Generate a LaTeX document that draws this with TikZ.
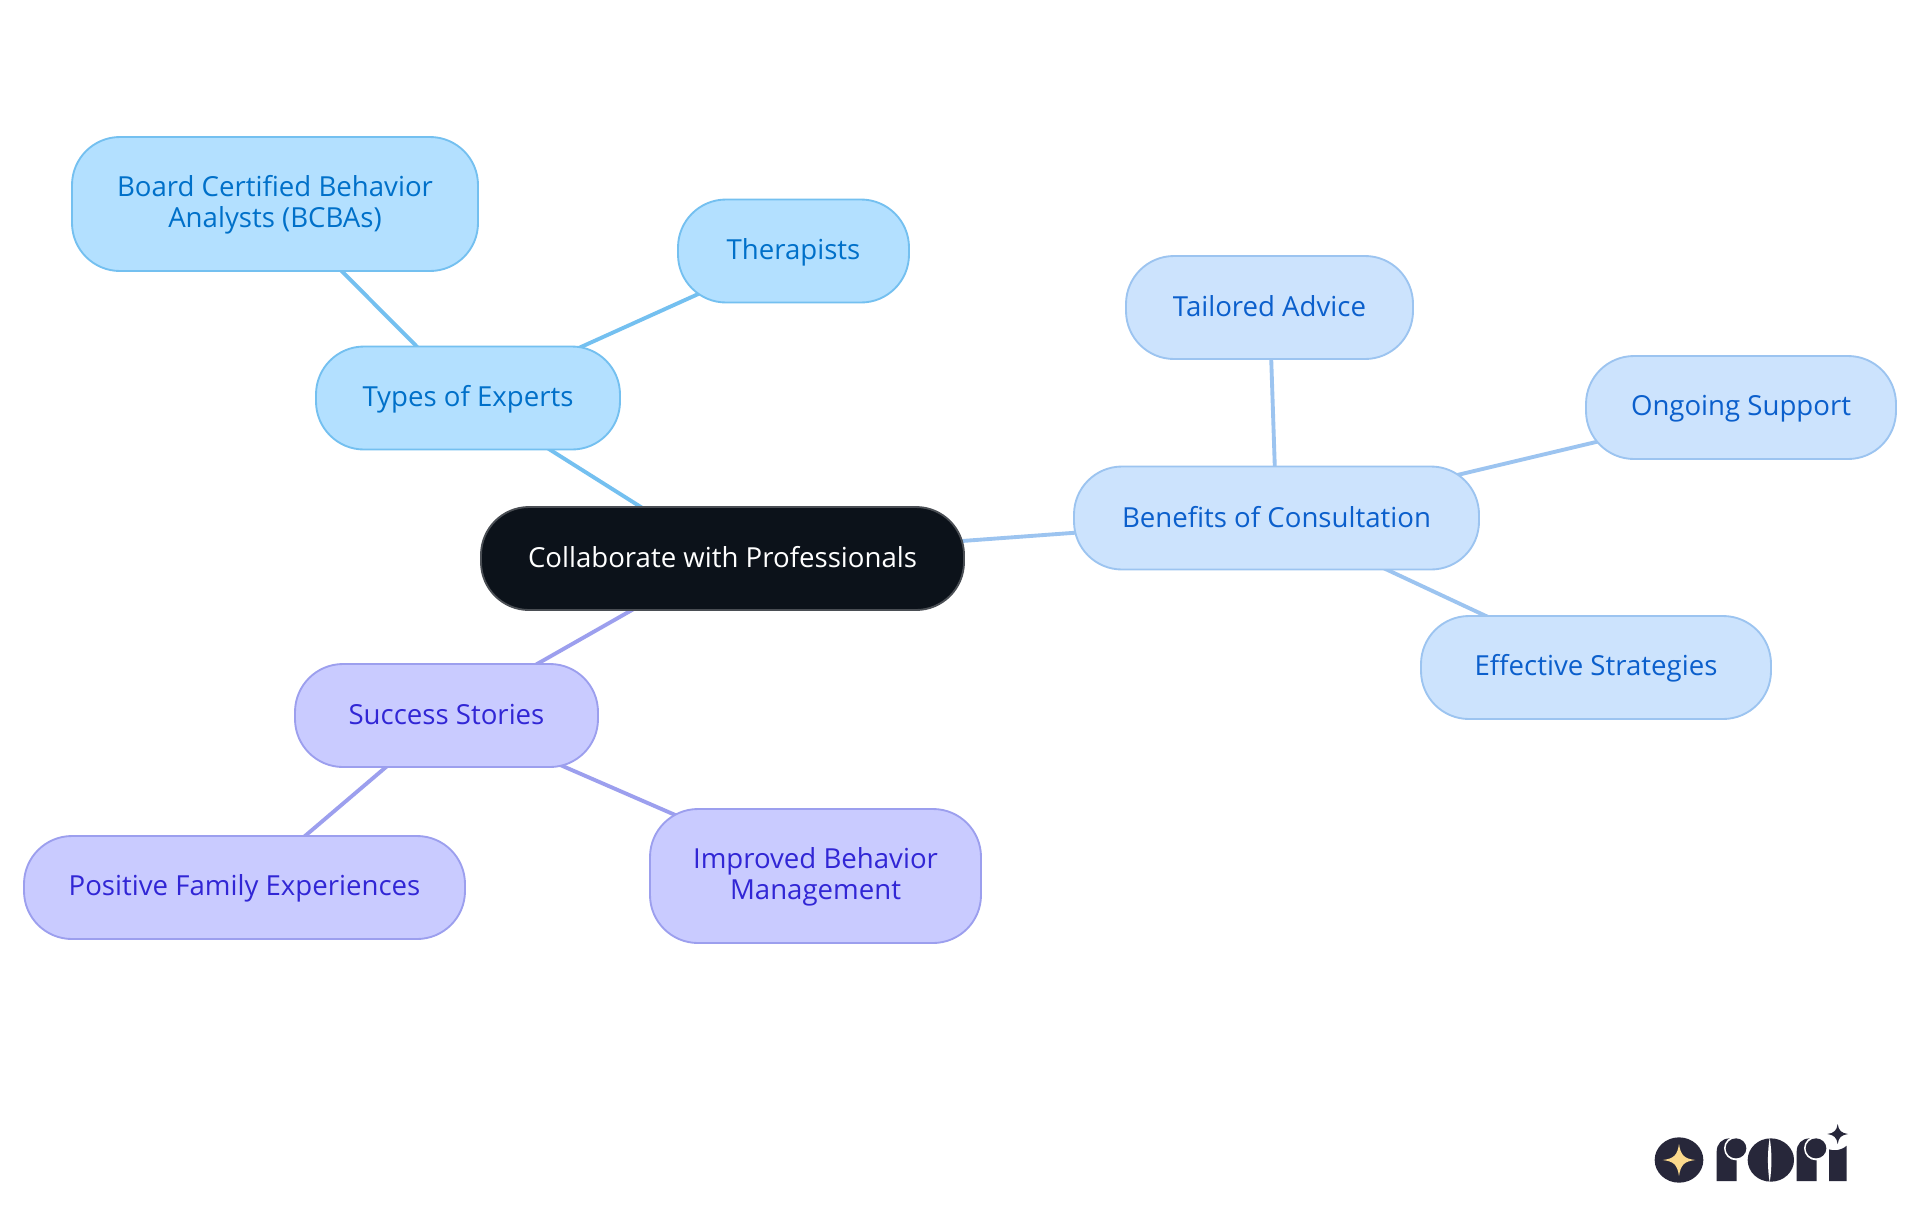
\documentclass[tikz,border=0pt]{standalone}
\usepackage{fontspec}
\setmainfont{Open Sans}
\usetikzlibrary{backgrounds}
\definecolor{rootfill}{HTML}{0C121A}
\definecolor{rootline}{HTML}{4A4E54}
\definecolor{afill}{HTML}{B3E0FF}
\definecolor{aline}{HTML}{74C0F0}
\definecolor{atext}{HTML}{0070C9}
\definecolor{bfill}{HTML}{CCE3FD}
\definecolor{bline}{HTML}{9CC4F0}
\definecolor{btext}{HTML}{0B5FCC}
\definecolor{cfill}{HTML}{C9CBFF}
\definecolor{cline}{HTML}{9C9FEE}
\definecolor{ctext}{HTML}{3126D5}
\definecolor{logodark}{HTML}{27273A}
\definecolor{logostar}{HTML}{FBD98C}
\newcommand{\lstrut}{\rule[-3.2pt]{0pt}{20.2pt}}
\tikzset{
  x=0.75pt,y=-0.75pt,
  pill/.style={rounded corners=36pt,line width=1.4pt,align=center,inner sep=0pt,
    font=\fontsize{20.7pt}{23pt}\selectfont},
  rootn/.style={pill,fill=rootfill,draw=rootline,text=white},
  an/.style={pill,fill=afill,draw=aline,text=atext},
  bn/.style={pill,fill=bfill,draw=bline,text=btext},
  cn/.style={pill,fill=cfill,draw=cline,text=ctext},
  aedge/.style={draw=aline,line width=2.9pt},
  bedge/.style={draw=bline,line width=2.9pt},
  cedge/.style={draw=cline,line width=2.9pt},
  logo/.style={fill=logodark,draw=none},
  gap/.style={fill=white,draw=none},
}
\newcommand{\pillnode}[7]{\node[#1,minimum width=#4*0.75pt,minimum height=#5*0.75pt] (#2) at (#3) {#6};}
\begin{document}
\begin{tikzpicture}
\useasboundingbox (0,0) rectangle (1920,1215);
\pillnode{rootn}{root}{722.5,558.5}{483}{103}{\lstrut Collaborate with Professionals}{}
\pillnode{an}{types}{468,398}{304}{103}{\lstrut Types of Experts}{}
\pillnode{an}{bcba}{275,204}{406}{134}{\lstrut Board Certified Behavior\\\lstrut Analysts (BCBAs)}{}
\pillnode{an}{ther}{793.5,251}{231}{103}{\lstrut Therapists}{}
\pillnode{bn}{ben}{1276.5,518}{405}{103}{\lstrut Benefits of Consultation}{}
\pillnode{bn}{tail}{1269.5,307.5}{287}{103}{\lstrut Tailored Advice}{}
\pillnode{bn}{ongo}{1741,407.5}{310}{103}{\lstrut Ongoing Support}{}
\pillnode{bn}{effe}{1596,667.5}{350}{103}{\lstrut Effective Strategies}{}
\pillnode{cn}{succ}{446.5,715.5}{303}{103}{\lstrut Success Stories}{}
\pillnode{cn}{posi}{244.5,887.5}{441}{103}{\lstrut Positive Family Experiences}{}
\pillnode{cn}{impr}{815.5,876}{331}{134}{\lstrut Improved Behavior\\\lstrut Management}{}
\begin{pgfonlayer}{background}
  \fill[white] (0,0) rectangle (1920,1215);
  \draw[aedge] (root.center) -- (types.center);
  \draw[aedge] (types.center) -- (bcba.center);
  \draw[aedge] (types.center) -- (ther.center);
  \draw[bedge] (root.center) -- (ben.center);
  \draw[bedge] (ben.center) -- (tail.center);
  \draw[bedge] (ben.center) -- (ongo.center);
  \draw[bedge] (ben.center) -- (effe.center);
  \draw[cedge] (root.center) -- (succ.center);
  \draw[cedge] (succ.center) -- (posi.center);
  \draw[cedge] (succ.center) -- (impr.center);
\end{pgfonlayer}
% logo, in units of the 3x crop
\begin{scope}[shift={(1620,1100)},x=0.25pt,y=-0.25pt]
  \fill[logodark] (177,180) ellipse [x radius=73,y radius=68];
  \fill[logostar] (177,132) .. controls (182,165) and (192,176) .. (226,180)
    .. controls (192,184) and (182,195) .. (177,228)
    .. controls (172,195) and (162,184) .. (128,180)
    .. controls (162,176) and (172,165) .. (177,132) -- cycle;
  % first r
  \fill[logo] (290,243) -- (290,155) .. controls (290,132) and (305,115) .. (330,115)
    -- (350,115) -- (350,243) -- cycle;
  \fill[gap] (348,145) circle [radius=36];
  \fill[logo] (348,145) ellipse [x radius=31,y radius=30];
  % o
  \fill[logo] (452.5,180) ellipse [x radius=69.5,y radius=65];
  \fill[gap] (449,113) .. controls (442,155) and (442,205) .. (449,247)
    .. controls (456,205) and (456,155) .. (449,113) -- cycle;
  % second r
  \fill[logo] (530,243) -- (530,155) .. controls (530,132) and (545,115) .. (570,115)
    -- (590,115) -- (590,243) -- cycle;
  \fill[gap] (588,145) circle [radius=36];
  \fill[logo] (588,145) ellipse [x radius=31,y radius=30];
  % i
  \fill[logo] (627,243) -- (627,148) .. controls (640,153) and (662,153) .. (680,137)
    -- (680,243) -- cycle;
  \fill[logo] (653,72) .. controls (656,92) and (664,99) .. (684,102)
    .. controls (664,105) and (656,112) .. (653,132)
    .. controls (650,112) and (642,105) .. (622,102)
    .. controls (642,99) and (650,92) .. (653,72) -- cycle;
\end{scope}
\end{tikzpicture}
\end{document}
